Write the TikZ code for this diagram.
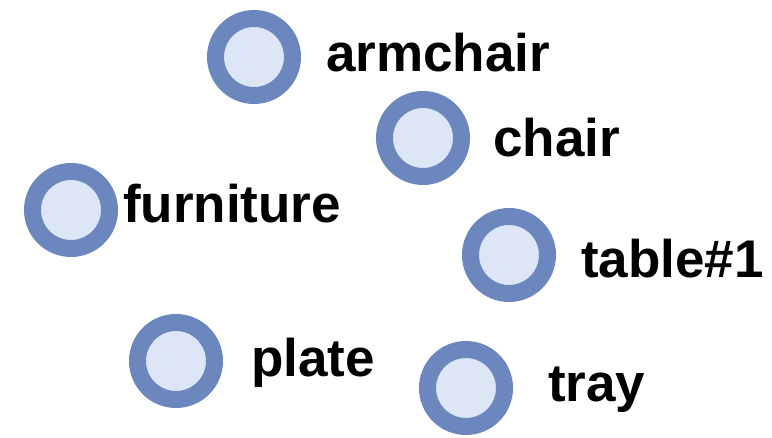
\documentclass[tikz,border=0pt]{standalone}
\usepackage{fontspec}
\setmainfont{Liberation Sans}
\definecolor{ringblue}{RGB}{108,135,189}
\definecolor{fillblue}{RGB}{220,230,247}
\tikzset{
  concept/.style={circle, draw=ringblue, fill=fillblue, line width=17pt, minimum size=77pt, inner sep=0pt},
  word/.style={anchor=base west, inner sep=0pt, font=\fontsize{53}{60}\selectfont\bfseries}
}
\begin{document}
\begin{tikzpicture}[x=1pt,y=1pt]
    \useasboundingbox (0,0) rectangle (772,438);

    % 1. 概念圆点
    \node[concept] (armchair) at (254,381) {};
    \node[concept] (chair) at (423,300) {};
    \node[concept] (furniture) at (71,228) {};
    \node[concept] (table) at (509,183) {};
    \node[concept] (plate) at (176,77) {};
    \node[concept] (tray) at (466,50) {};

    % 2. 标签
    \node[word] (armchairlbl) at (326,366) {armchair};
    \node[word] (chairlbl) at (493,281) {chair};
    \node[word] (furniturelbl) at (123,215) {furniture};
    \node[word] (tablelbl) at (581,160) {table\#1};
    \node[word] (platelbl) at (251,61) {plate};
    \node[word] (traylbl) at (548,36) {tray};

\end{tikzpicture}
\end{document}
